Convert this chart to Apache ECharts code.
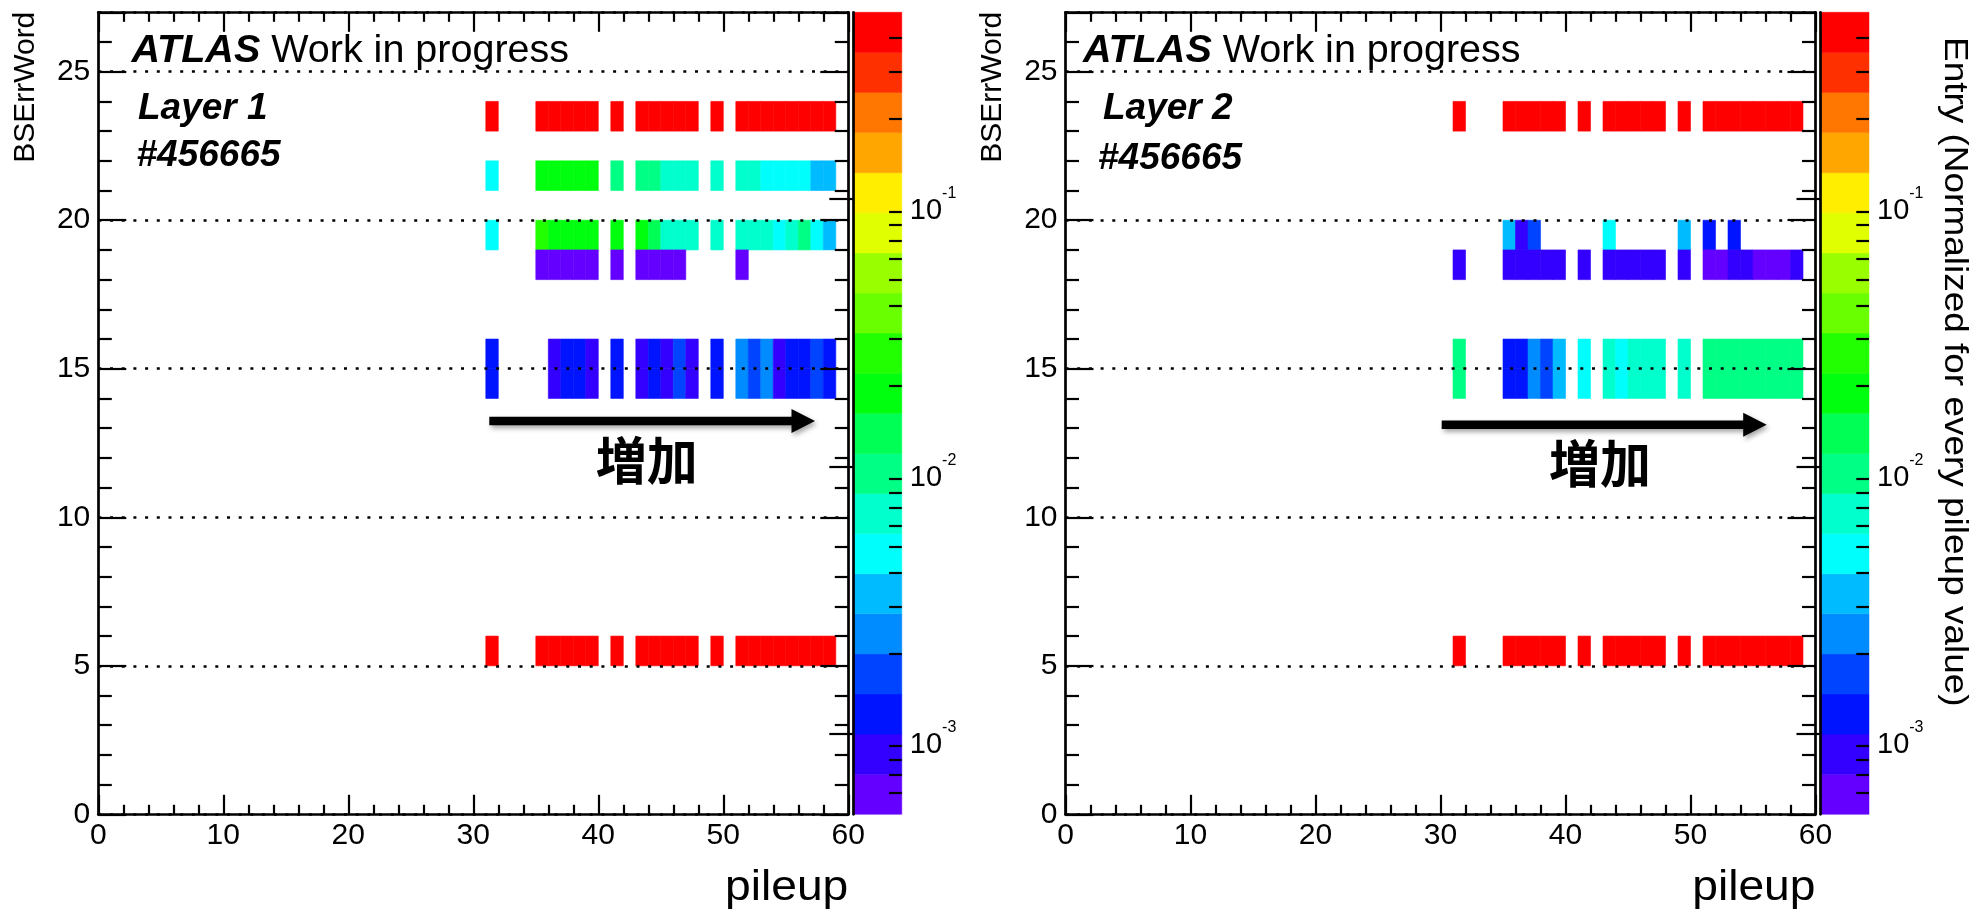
<!DOCTYPE html>
<html>
<head>
<meta charset="utf-8">
<script src="https://cdn.jsdelivr.net/npm/echarts@6/dist/echarts.min.js"></script>
<style>
  html, body { margin: 0; padding: 0; background: #fff; }
  #chart { width: 1978px; height: 913px; }
</style>
</head>
<body>
<div id="chart"></div>
<script>
// Lower edges of the pileup bins that have entries (bin width 1)
const pileupBins = [31, 35, 36, 37, 38, 39, 41, 43, 44, 45, 46, 47, 49, 51, 52, 53, 54, 55, 56, 57, 58];

// Normalized entries per BSErrWord bin, one value per pileup bin above (null = empty)
const layer1Word23 = [0.42, 0.42, 0.42, 0.42, 0.42, 0.42, 0.42, 0.42, 0.42, 0.42, 0.42, 0.42, 0.42, 0.42, 0.42, 0.42, 0.42, 0.42, 0.42, 0.42, 0.42];
const layer1Word21 = [0.0047, 0.019, 0.019, 0.019, 0.019, 0.019, 0.0094, 0.0094, 0.0094, 0.0067, 0.0067, 0.0067, 0.0067, 0.0067, 0.0067, 0.0047, 0.0047, 0.0047, 0.0047, 0.0034, 0.0034];
const layer1Word19 = [0.0047, 0.027, 0.019, 0.019, 0.019, 0.019, 0.019, 0.019, 0.013, 0.0067, 0.0067, 0.0067, 0.0067, 0.0067, 0.0067, 0.0067, 0.0047, 0.0067, 0.0094, 0.0047, 0.0034];
const layer1Word18 = [null, 0.0006, 0.0006, 0.0006, 0.0006, 0.0006, 0.0006, 0.0006, 0.0006, 0.0006, 0.0006, null, null, 0.0006, null, null, null, null, null, null, null];
const layer1Word15 = [0.0012, null, 0.00085, 0.0012, 0.0012, 0.00085, 0.0012, 0.00085, 0.0012, 0.00085, 0.0017, 0.00085, 0.0012, 0.0024, 0.0017, 0.0024, 0.00085, 0.0012, 0.0012, 0.0017, 0.0012];
const layer1Word14 = [0.0012, null, 0.00085, 0.0012, 0.0012, 0.00085, 0.0012, 0.00085, 0.0012, 0.00085, 0.0017, 0.00085, 0.0012, 0.0024, 0.0017, 0.0024, 0.00085, 0.0012, 0.0012, 0.0017, 0.0012];
const layer1Word5  = [0.42, 0.42, 0.42, 0.42, 0.42, 0.42, 0.42, 0.42, 0.42, 0.42, 0.42, 0.42, 0.42, 0.42, 0.42, 0.42, 0.42, 0.42, 0.42, 0.42, 0.42];

const layer2Word23 = [0.42, 0.42, 0.42, 0.42, 0.42, 0.42, 0.42, 0.42, 0.42, 0.42, 0.42, 0.42, 0.42, 0.42, 0.42, 0.42, 0.42, 0.42, 0.42, 0.42, 0.42];
const layer2Word19 = [null, 0.0034, 0.00085, 0.0017, null, null, null, 0.0047, null, null, null, null, 0.0034, 0.0012, null, 0.0012, null, null, null, null, null];
const layer2Word18 = [0.00085, 0.00085, 0.00085, 0.00085, 0.00085, 0.00085, 0.00085, 0.00085, 0.00085, 0.00085, 0.00085, 0.00085, 0.00085, 0.0006, 0.0006, 0.00085, 0.00085, 0.0006, 0.0006, 0.0006, 0.00085];
const layer2Word15 = [0.0094, 0.0012, 0.0012, 0.0024, 0.0017, 0.0034, 0.0047, 0.0067, 0.0047, 0.0067, 0.0067, 0.0067, 0.0067, 0.0094, 0.0094, 0.0094, 0.0094, 0.0094, 0.0094, 0.0094, 0.0094];
const layer2Word14 = [0.0094, 0.0012, 0.0012, 0.0024, 0.0017, 0.0034, 0.0047, 0.0067, 0.0047, 0.0067, 0.0067, 0.0067, 0.0067, 0.0094, 0.0094, 0.0094, 0.0094, 0.0094, 0.0094, 0.0094, 0.0094];
const layer2Word5  = [0.42, 0.42, 0.42, 0.42, 0.42, 0.42, 0.42, 0.42, 0.42, 0.42, 0.42, 0.42, 0.42, 0.42, 0.42, 0.42, 0.42, 0.42, 0.42, 0.42, 0.42];

// Axis ranges and colour-scale settings
const xRange = [0, 60];
const yRange = [0, 27];
const zRange = [0.0005, 0.5];      // colour axis (log scale)
const zMajorTicks = [-3, -2, -1];  // log10 of 10^-3, 10^-2, 10^-1
const nContours = 20;

const FONT = "'Liberation Sans', Arial, Helvetica, sans-serif";
const CJK = "'Noto Sans CJK JP', 'Noto Sans CJK SC', sans-serif";

const layers = [
  { rows: [[23, layer1Word23], [21, layer1Word21], [19, layer1Word19], [18, layer1Word18],
           [15, layer1Word15], [14, layer1Word14], [5, layer1Word5]] },
  { rows: [[23, layer2Word23], [19, layer2Word19], [18, layer2Word18],
           [15, layer2Word15], [14, layer2Word14], [5, layer2Word5]] }
];

// Rainbow palette: 50 hues from violet to red, sampled for 20 contour levels
function hueToRgb(h) {
  let r, g, b;
  if (h < 60)       { r = 1; g = h / 60; b = 0; }
  else if (h < 120) { r = (120 - h) / 60; g = 1; b = 0; }
  else if (h < 180) { r = 0; g = 1; b = (h - 120) / 60; }
  else if (h < 240) { r = 0; g = (240 - h) / 60; b = 1; }
  else              { r = (h - 240) / 60; g = 0; b = 1; }
  const c = v => Math.round(v * 255).toString(16).padStart(2, '0');
  return '#' + c(r) + c(g) + c(b);
}
const palette = [];
for (let k = 0; k < nContours; k++) {
  const idx = Math.floor((k + 0.99) * 50 / nContours);
  const hue = 280 - (idx + 1) * (280 / 50);
  palette.push(hueToRgb(Math.max(0, hue)));
}
const logMin = Math.log10(zRange[0]);
const logMax = Math.log10(zRange[1]);
const step = (logMax - logMin) / nContours;

const pieces = palette.map((color, k) => {
  const p = { gte: logMin + k * step, color };
  if (k === nContours - 1) p.lte = logMax + 1; else p.lt = logMin + (k + 1) * step;
  return p;
});

function cellData(layer) {
  const out = [];
  layer.rows.forEach(([yBin, values]) => {
    values.forEach((v, i) => {
      if (v != null) out.push([pileupBins[i], yBin, v, Math.log10(v)]);
    });
  });
  return out;
}
const bandData = palette.map((c, k) => [k, logMin + k * step, logMin + (k + 1) * step]);

const zMinorTicks = [];
for (let n = -4; n <= -1; n++) {
  for (let m = 2; m <= 9; m++) {
    const l = Math.log10(m * Math.pow(10, n));
    if (l > logMin + 1e-6 && l < logMax - 1e-6) zMinorTicks.push(l);
  }
}

// Panel geometry
const plotTop = 12.3, plotH = 802, plotW = 750, cbW = 48.5, cbGap = 5;
const panelLeft = [98.3, 1065.5];

const grids = [], xAxes = [], yAxes = [], series = [];
const black = '#000';
const labelSize = 30;

panelLeft.forEach((L, p) => {
  const gMain = grids.length;
  grids.push({ left: L, top: plotTop, width: plotW, height: plotH, containLabel: false });
  const gBar = grids.length;
  grids.push({ left: L + plotW + cbGap, top: plotTop, width: cbW, height: plotH, containLabel: false });

  const xBase = {
    gridIndex: gMain, type: 'value', min: xRange[0], max: xRange[1], interval: 10, z: 5,
    axisLine: { show: true, onZero: false, lineStyle: { color: black, width: 2.7 } },
    axisTick: { show: true, inside: true, length: 19.5, lineStyle: { color: black, width: 2.2 } },
    minorTick: { show: true, splitNumber: 5, length: 9.5, lineStyle: { color: black, width: 2.2 } },
    splitLine: { show: false }
  };
  const xMainIdx = xAxes.length;
  xAxes.push(Object.assign({}, xBase, {
    position: 'bottom',
    axisLabel: { show: true, margin: 6, fontSize: labelSize, fontFamily: FONT, color: black }
  }));
  xAxes.push(Object.assign({}, xBase, { position: 'top', axisLabel: { show: false } }));

  const yBase = {
    gridIndex: gMain, type: 'value', min: yRange[0], max: yRange[1], interval: 5, z: 5,
    axisLine: { show: true, onZero: false, lineStyle: { color: black, width: 2.7 } },
    axisTick: { show: true, inside: true, length: 28, lineStyle: { color: black, width: 2.2 } },
    minorTick: { show: true, splitNumber: 5, length: 13.5, lineStyle: { color: black, width: 2.2 } }
  };
  const yMainIdx = yAxes.length;
  yAxes.push(Object.assign({}, yBase, {
    position: 'left',
    axisLabel: { show: true, margin: 8, fontSize: labelSize, fontFamily: FONT, color: black, showMaxLabel: false },
    splitLine: { show: true, lineStyle: { color: black, width: 2.7, type: [3, 8.7] } }
  }));
  yAxes.push(Object.assign({}, yBase, { position: 'right', axisLabel: { show: false }, splitLine: { show: false } }));

  // colour bar axes
  const xBarIdx = xAxes.length;
  xAxes.push({ gridIndex: gBar, type: 'value', min: 0, max: 1, show: false });
  const yBarIdx = yAxes.length;
  yAxes.push({
    gridIndex: gBar, type: 'value', position: 'right', min: logMin, max: logMax, z: 5,
    axisLine: { show: true, lineStyle: { color: black, width: 2.7 } },
    axisTick: { show: true, inside: true, length: 24, customValues: zMajorTicks, lineStyle: { color: black, width: 2.2 } },
    axisLabel: {
      show: true, margin: 8, customValues: zMajorTicks, padding: [12, 0, 0, 0],
      formatter: v => '{n|10}{s|' + Math.round(v) + '}',
      rich: {
        n: { fontSize: 29, lineHeight: 40, verticalAlign: 'bottom', fontFamily: FONT, color: black },
        s: { fontSize: 16, lineHeight: 16, verticalAlign: 'top', fontFamily: FONT, color: black }
      }
    },
    splitLine: { show: false }
  });
  yAxes.push({
    gridIndex: gBar, type: 'value', position: 'right', min: logMin, max: logMax, z: 5,
    axisLine: { show: false },
    axisTick: { show: true, inside: true, length: 12.7, customValues: zMinorTicks, lineStyle: { color: black, width: 2.2 } },
    axisLabel: { show: false },
    splitLine: { show: false }
  });

  series.push({
    type: 'custom', name: 'Layer ' + (p + 1), xAxisIndex: xMainIdx, yAxisIndex: yMainIdx, z: 2,
    dimensions: ['pileup', 'word', 'entry', 'logEntry'],
    encode: { x: 0, y: 1 },
    data: cellData(layers[p]),
    renderItem: (params, api) => {
      const x = api.value(0), y = api.value(1);
      const a = api.coord([x, y + 1]);
      const b = api.coord([x + 1, y]);
      const color = api.visual('color');
      return {
        type: 'rect',
        shape: { x: a[0], y: a[1], width: b[0] - a[0], height: b[1] - a[1] },
        style: { fill: color, stroke: color, lineWidth: 0.6 }
      };
    }
  });
  series.push({
    type: 'custom', xAxisIndex: xBarIdx, yAxisIndex: yBarIdx, z: 2,
    encode: { x: 0, y: [1, 2] },
    data: bandData,
    renderItem: (params, api) => {
      const k = api.value(0);
      const a = api.coord([0, api.value(2)]);
      const b = api.coord([1, api.value(1)]);
      return {
        type: 'rect',
        shape: { x: a[0], y: a[1], width: b[0] - a[0], height: b[1] - a[1] },
        style: { fill: palette[k], stroke: palette[k], lineWidth: 0.5 }
      };
    }
  });
});

// Text annotations and arrows
function label(x, baseline, text, size, extra) {
  return {
    type: 'text', x: x, y: baseline - 0.32 * size, z: 10,
    style: Object.assign({ text: text, fontSize: size, fontFamily: FONT, fill: black,
                           align: 'left', verticalAlign: 'middle' }, extra || {})
  };
}
function atlas(x, baseline) {
  const s = 39.5;
  return {
    type: 'text', x: x, y: baseline - 0.32 * s, z: 10,
    style: {
      text: '{a|ATLAS}{b|\u00a0Work in progress}', verticalAlign: 'middle', align: 'left',
      rich: {
        a: { fontSize: s, fontFamily: FONT, fontWeight: 'bold', fontStyle: 'italic', fill: black },
        b: { fontSize: s, fontFamily: FONT, fill: black }
      }
    }
  };
}
function arrow(x0, xt, yc) {
  const xh = xt - 23.5, hs = 4.3, hh = 12;
  return {
    type: 'polygon', z: 10,
    shape: { points: [[x0, yc - hs], [xh, yc - hs], [xh, yc - hh], [xt, yc], [xh, yc + hh], [xh, yc + hs], [x0, yc + hs]] },
    style: { fill: black, shadowBlur: 5, shadowOffsetX: 2, shadowOffsetY: 3, shadowColor: 'rgba(0,0,0,0.35)' }
  };
}
function xTitle(right) {
  const s = 42;
  return { type: 'text', x: right, y: 902 - 0.32 * s, z: 10, scaleX: 1.1,
    style: { text: 'pileup', fontSize: s, fontFamily: FONT, fill: black, align: 'right', verticalAlign: 'middle' } };
}
function yTitle(x) {
  return { type: 'text', x: x, y: 11.7, rotation: Math.PI / 2, z: 10,
    style: { text: 'BSErrWord', fontSize: 30, fontFamily: FONT, fill: black, align: 'right', verticalAlign: 'middle' } };
}
function increase(x, y) {
  return { type: 'text', x: x, y: y, z: 10,
    style: { text: '増加', fontSize: 51, fontFamily: CJK, fontWeight: 'bold', fill: black, align: 'center', verticalAlign: 'middle' } };
}
const bi = { fontWeight: 'bold', fontStyle: 'italic' };

const graphics = [
  atlas(131.5, 64),
  label(138, 121, 'Layer 1', 37, bi),
  label(136.5, 168, '#456665', 37, bi),
  arrow(489.3, 815, 421),
  increase(646.7, 461),
  xTitle(848.3),
  yTitle(26),

  atlas(1083, 64),
  label(1103, 121, 'Layer 2', 37, bi),
  label(1098, 171, '#456665', 37, bi),
  arrow(1441.7, 1766.7, 424.7),
  increase(1600, 464),
  xTitle(1815.5),
  yTitle(993),
  { type: 'text', x: 1954, y: 37, rotation: -Math.PI / 2, z: 10, scaleX: 1.12,
    style: { text: 'Entry (Normalized for every pileup value)', fontSize: 33, fontFamily: FONT, fill: black, align: 'left', verticalAlign: 'middle' } }
];

const chart = echarts.init(document.getElementById('chart'), null, { renderer: 'canvas' });
chart.setOption({
  backgroundColor: '#fff',
  animation: false,
  grid: grids,
  xAxis: xAxes,
  yAxis: yAxes,
  visualMap: [{
    type: 'piecewise', show: false, dimension: 3, seriesIndex: [0, 2], pieces: pieces
  }],
  series: series,
  graphic: graphics
});
</script>
</body>
</html>
